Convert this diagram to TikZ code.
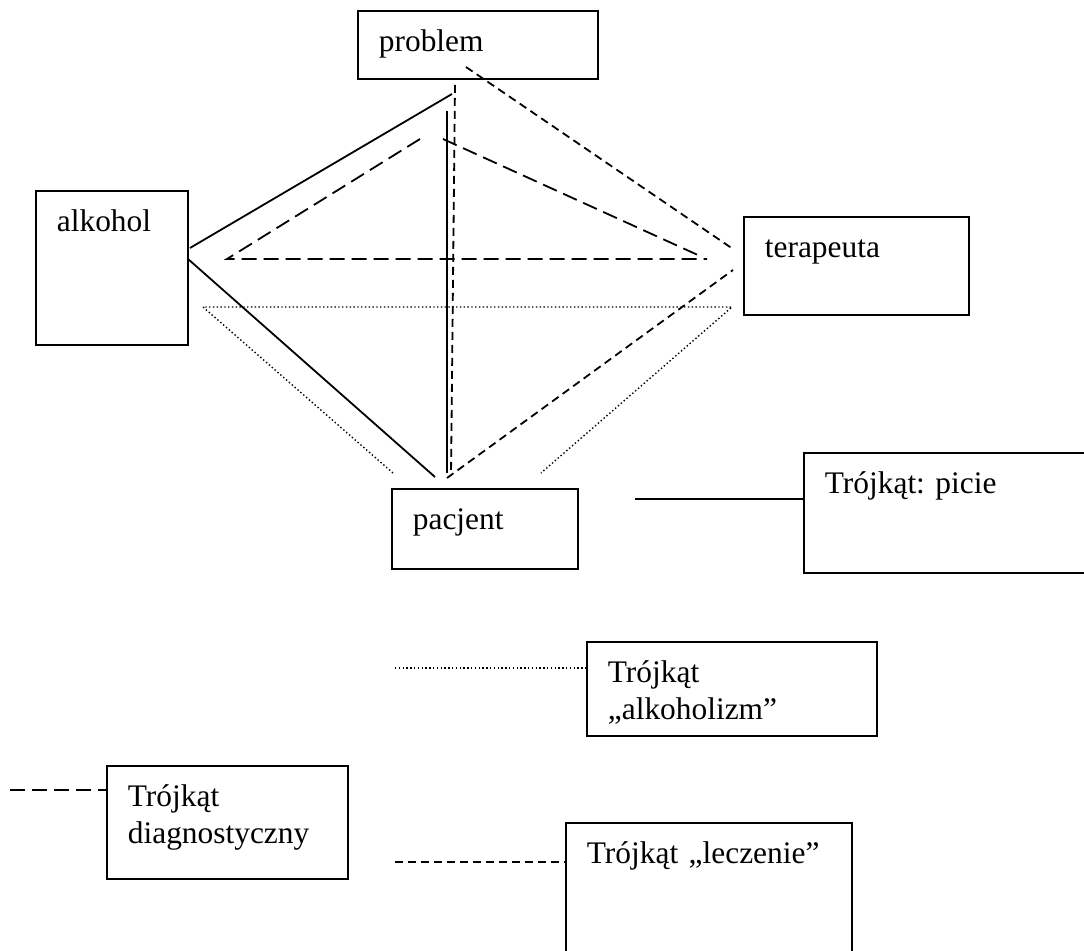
\documentclass[tikz,border=0pt]{standalone}
\usepackage{fontspec}
\setmainfont{Liberation Serif}
\usetikzlibrary{positioning}
\frenchspacing

\begin{document}
\begin{tikzpicture}[
            x=0.5pt,y=-0.5pt,
            box/.style={
                    draw,
                    line width=0.9pt,
                    anchor=north west,
                    inner xsep=10.5pt,
                    inner ysep=0pt,
                    align=left,
                    text height=20.5pt,
                    font=\fontsize{15.7pt}{18.5pt}\selectfont
                },
            picie/.style={line width=0.9pt},
            diagn/.style={line width=0.9pt,dash pattern=on 7.5pt off 3.5pt},
            leczenie/.style={line width=0.9pt,dash pattern=on 4pt off 2.5pt},
            alkoholizm/.style={line width=0.7pt,dash pattern=on 0.7pt off 1.2pt}
        ]
        \useasboundingbox (0,0) rectangle (1084,951);

        \node[box,text width=99pt,text depth=13.5pt] at (357,10)
        (problem) {problem};
        \node[box,text width=55pt,text depth=56.5pt] at (35,190)
        (alkohol) {alkohol};
        \node[box,text width=91.5pt,text depth=28.5pt] at (743,216)
        (terapeuta) {terapeuta};
        \node[box,text width=72pt,text depth=19.5pt] at (391,488)
        (pacjent) {pacjent};

        \node[box,text width=127.5pt,text depth=39.5pt] at (803,452)
        (legpicie) {Trójkąt: picie};
        \node[box,text width=124pt,text depth=26.5pt] at (586,641)
        (legalk) {Trójkąt\\„alkoholizm”};
        \node[box,text width=99.5pt,text depth=36pt] at (106,765)
        (legdiag) {Trójkąt\\diagnostyczny};
        \node[box,text width=122pt,text depth=48.5pt] at (565,822)
        (leglecz) {Trójkąt „leczenie”};

        \coordinate (picA) at (190,248);
        \coordinate (picB) at (452,94);
        \coordinate (picC) at (188,259);
        \coordinate (picD) at (435,477);
        \coordinate (picE) at (447,111);
        \coordinate (picF) at (447,473);

        \coordinate (diaA) at (420,139);
        \coordinate (diaB) at (227,259);
        \coordinate (diaC) at (707,259);
        \coordinate (diaD) at (443,139);
        \coordinate (diaE) at (700,256);

        \coordinate (lecA) at (466,67);
        \coordinate (lecB) at (733,249);
        \coordinate (lecC) at (455,85);
        \coordinate (lecD) at (451,476);
        \coordinate (lecE) at (447,478);
        \coordinate (lecF) at (733,270);

        \coordinate (alkA) at (393,473);
        \coordinate (alkB) at (203,307);
        \coordinate (alkC) at (732,307);
        \coordinate (alkD) at (541,473);

        \draw[picie] (picA) -- (picB);
        \draw[picie] (picC) -- (picD);
        \draw[picie] (picE) -- (picF);

        \draw[diagn] (diaA) -- (diaB) -- (diaC);
        \draw[diagn] (diaD) -- (diaE);

        \draw[leczenie] (lecA) -- (lecB);
        \draw[leczenie] (lecC) -- (lecD);
        \draw[leczenie] (lecE) -- (lecF);

        \draw[alkoholizm] (alkA) -- (alkB) -- (alkC) -- (alkD);

        \coordinate (k1) at (635,499);
        \coordinate (k2) at (395,668);
        \coordinate (k3) at (10,790);
        \coordinate (k4) at (395,862);
        \draw[picie] (k1) -- (k1 -| legpicie.west);
        \draw[alkoholizm] (k2) -- (k2 -| legalk.west);
        \draw[diagn] (k3) -- (k3 -| legdiag.west);
        \draw[leczenie] (k4) -- (k4 -| leglecz.west);
    \end{tikzpicture}
\end{document}
